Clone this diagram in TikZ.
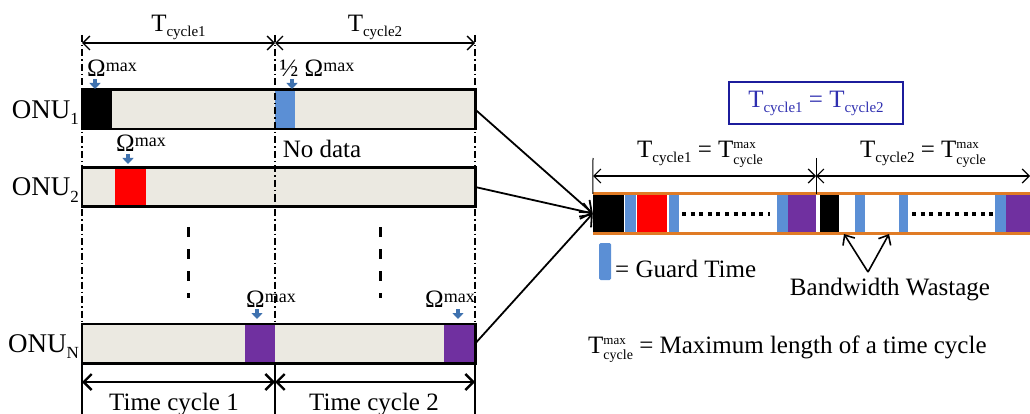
\documentclass[tikz,border=0pt]{standalone}
\usepackage{fontspec}
\setmainfont{Liberation Serif}
\usetikzlibrary{arrows.meta}
\definecolor{barfill}{HTML}{EBE9E1}
\definecolor{guard}{HTML}{5B8FD5}
\definecolor{omblue}{HTML}{3F72AF}
\definecolor{onupurple}{HTML}{7030A0}
\definecolor{tlorange}{HTML}{E07B25}
\definecolor{navy}{HTML}{1C1C9C}
\definecolor{boxtext}{HTML}{2F2FB0}
\newcommand{\omx}{Ω\raisebox{5pt}{\fontsize{18}{18}\selectfont max}}
\newcommand{\Tc}[1]{T\raisebox{-5pt}{\fontsize{15}{15}\selectfont cycle#1}}
\newcommand{\Tmax}{T\rlap{\raisebox{9pt}{\fontsize{13}{13}\selectfont max}}\raisebox{-6pt}{\fontsize{14}{14}\selectfont cycle}}
\newcommand{\onutx}[1]{\fontsize{27}{30}\selectfont ONU\raisebox{-6pt}{\fontsize{17}{17}\selectfont #1}}
\newcommand{\onubar}[3]{%
 \node[onubar] (#1) at (278.5,#2) {};%
 \node[txt,anchor=base east] (#1l) at (79,#2+9) {\onutx{#3}};%
}
\newcommand{\slot}[5]{%
 \node[slotbox,fill=#5,minimum width={(#4-#3)*1pt}] (#1) at ({(#3+#4)/2},#2) {};%
}
\newcommand{\omark}[4]{%
 \node[txt] (#1) at (#2) {#3};%
 \coordinate (#1a) at (#4);%
 \draw[omarrow] (#1a) -- ++(0,10);%
}
\tikzset{
 onubar/.style={fill=barfill,minimum width=393pt,minimum height=39pt,inner sep=0pt},
 slotbox/.style={inner sep=0pt,minimum height=37pt},
 frame/.style={line width=2.6pt},
 txt/.style={font=\fontsize{25}{30}\selectfont,inner sep=0pt,anchor=base},
 dashdot/.style={line width=1.4pt,dash pattern=on 7pt off 3pt on 1.5pt off 3pt},
 dim/.style={line width=1.4pt,{Straight Barb[length=7pt,width=14pt]}-{Straight Barb[length=7pt,width=14pt]}},
 bigdim/.style={line width=2.4pt,{Straight Barb[length=8pt,width=16pt]}-{Straight Barb[length=8pt,width=16pt]}},
 omarrow/.style={omblue,line width=4pt,-{Triangle[length=6pt,width=11pt]}},
 feed/.style={line width=1.8pt,-{Straight Barb[length=10pt,width=16pt]}},
 wastage/.style={line width=1.6pt,-{Straight Barb[length=8pt,width=14pt]}},
 dots/.style={line width=4pt,dash pattern=on 4pt off 4.6pt},
}
\begin{document}
\begin{tikzpicture}[x=1pt,y=-1pt]
 \useasboundingbox (0,0) rectangle (1030,414);
 % ONU bars
 \onubar{b1}{109.5}{1}
 \onubar{b2}{187}{2}
 \onubar{bN}{343.5}{N}
 \slot{s1a}{109.5}{82}{112}{black}
 \slot{s1b}{109.5}{275}{295}{guard}
 \slot{s2a}{187}{115}{146}{red}
 \slot{sNa}{343.5}{245}{275}{onupurple}
 \slot{sNb}{343.5}{444}{475}{onupurple}
 \foreach \b in {b1,b2,bN}
  \draw[frame] (\b.south west) rectangle (\b.north east);
 \coordinate (t0) at (82,35);
 \coordinate (t1) at (275,35);
 \coordinate (t2) at (475,35);
 \foreach \t in {t0,t1,t2}
  \draw[dashdot] (\t) -- (\t |- bN.north);
 \draw[line width=3pt,dash pattern=on 10pt off 12pt] (188,227) -- (188,298);
 \draw[line width=3pt,dash pattern=on 10pt off 12pt] (380,227) -- (380,298);
 % cycle lengths
 \draw[dim] (82,43) -- node[txt,above=3pt] (lc1) {\Tc{1}} (275,43);
 \draw[dim] (275,43) -- node[txt,above=3pt] (lc2) {\Tc{2}} (475,43);
 \omark{o1}{112,77}{\omx}{95,79}
 \omark{o2}{317,77}{½ \omx}{292,79}
 \omark{o3}{141,152}{\omx}{128,154}
 \omark{o4}{271,307}{\omx}{257,309}
 \omark{o5}{450,307}{\omx}{458,309}
 \node[txt] (nd) at (322,158) {No data};
 \foreach \x in {82,275,475}
  \draw[frame] (\x,363) -- (\x,414);
 \draw[bigdim] (82,382) -- (275,382);
 \draw[bigdim] (275,382) -- (475,382);
 \node[txt] (tc1) at (174,410) {Time cycle 1};
 \node[txt] (tc2) at (374,410) {Time cycle 2};
 % OLT time line
 \node[fill=white,minimum width=437pt,minimum height=39pt,inner sep=0pt] (tl) at (811.5,213.5) {};
 \slot{r1}{213.5}{593}{624}{black}
 \slot{r2}{213.5}{625}{636}{guard}
 \slot{r3}{213.5}{637}{667}{red}
 \slot{r4}{213.5}{669}{679}{guard}
 \slot{r5}{213.5}{777}{788}{guard}
 \slot{r6}{213.5}{788}{816}{onupurple}
 \slot{r7}{213.5}{820}{839}{black}
 \slot{r8}{213.5}{855}{865}{guard}
 \slot{r9}{213.5}{899}{908}{guard}
 \slot{r10}{213.5}{995}{1006}{guard}
 \slot{r11}{213.5}{1006}{1030}{onupurple}
 \draw[dots] (682,214) -- (770,214);
 \draw[dots] (912,214) -- (995,214);
 \draw[tlorange,line width=3pt] (tl.north west) -- (tl.north east);
 \draw[tlorange,line width=3pt] (tl.south west) -- (tl.south east);
 \foreach \b in {b1,b2,bN}
  \draw[feed] (\b.east) -- (tl.west);
 \draw[line width=1pt] (593,158) -- (tl.north west);
 \draw[line width=1pt] (816,158) -- (816,194);
 \draw[dim,line width=1.2pt] (593,176) -- (816,176);
 \draw[dim,line width=1.2pt] (816,176) -- (1030,176);
 \node[txt] (lr1) at (700,158) {\Tc{1} = \Tmax};
 \node[txt] (lr2) at (923,158) {\Tc{2} = \Tmax};
 \node[draw=navy,line width=2.5pt,text=boxtext,font=\fontsize{25}{30}\selectfont,
  minimum width=174pt,minimum height=42pt,inner sep=0pt] (eq) at (816,103) {\Tc{1} = \Tc{2}};
 % legend
 \node[fill=guard,rounded corners=1.5pt,minimum width=12pt,minimum height=37pt,inner sep=0pt] (lg) at (605,261.5) {};
 \node[txt,anchor=base west] (lgt) at (615,277) {= Guard Time};
 \node[txt] (bw) at (890,295) {Bandwidth Wastage};
 \coordinate (apex) at (868,272);
 \coordinate (gap1) at (844,234);
 \coordinate (gap2) at (889,234);
 \draw[wastage] (apex) -- (gap1);
 \draw[wastage] (apex) -- (gap2);
 \node[txt,anchor=base west] (def) at (588,353) {\Tmax{} = Maximum length of a time cycle};
\end{tikzpicture}
\end{document}
